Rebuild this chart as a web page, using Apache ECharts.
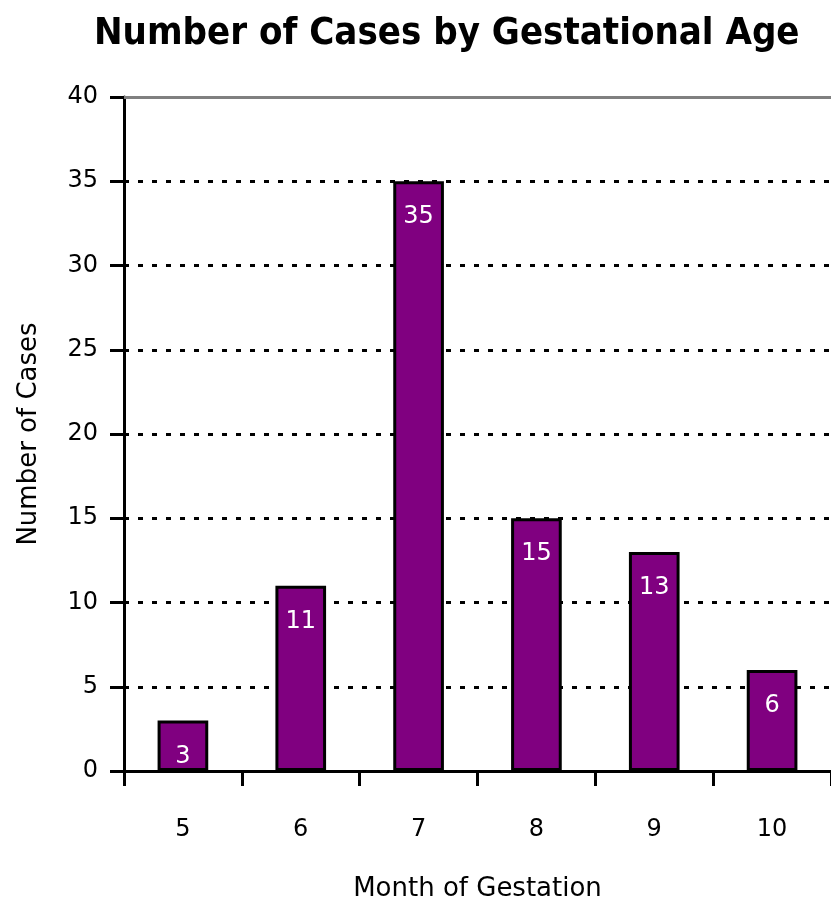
<!DOCTYPE html>
<html>
<head>
<meta charset="utf-8">
<script src="https://cdn.jsdelivr.net/npm/echarts@6/dist/echarts.min.js"></script>
<style>
  html, body { margin: 0; padding: 0; background: #fff; }
  #chart { width: 831px; height: 907px; }
</style>
</head>
<body>
<div id="chart"></div>
<script>
// data
const months = ['5', '6', '7', '8', '9', '10']
const cases = [3, 11, 35, 15, 13, 6]
const yTicks = [0, 5, 10, 15, 20, 25, 30, 35, 40]

const chart = echarts.init(document.getElementById('chart'))

const plainFont = 'DejaVu Sans'

chart.setOption({
  animation: false,
  backgroundColor: '#fff',
  title: {
    text: 'Number of Cases by Gestational Age',
    left: 89,
    top: 10,
    textStyle: {
      fontFamily: '"DejaVu Sans Condensed", "Liberation Sans Narrow", "Arial Narrow", sans-serif',
      fontSize: 38,
      fontWeight: 'bold',
      color: '#000'
    }
  },
  grid: {
    left: 124,
    right: 0,
    top: 97,
    bottom: 134
  },
  xAxis: {
    type: 'category',
    data: months,
    name: 'Month of Gestation',
    nameLocation: 'middle',
    nameGap: 105,
    nameTextStyle: { fontFamily: plainFont, fontSize: 26, color: '#000' },
    axisLine: { lineStyle: { color: '#000', width: 3 } },
    axisTick: { show: true, length: 15, lineStyle: { color: '#000', width: 3 } },
    axisLabel: { fontFamily: plainFont, fontSize: 24, color: '#000', margin: 47 }
  },
  yAxis: {
    type: 'value',
    min: yTicks[0],
    max: yTicks[yTicks.length - 1],
    interval: 5,
    name: 'Number of Cases',
    nameLocation: 'middle',
    nameGap: 82,
    nameTextStyle: { fontFamily: plainFont, fontSize: 26, color: '#000' },
    axisLine: { show: true, lineStyle: { color: '#000', width: 3 } },
    axisTick: { show: true, length: 14, lineStyle: { color: '#000', width: 3 } },
    axisLabel: { fontFamily: plainFont, fontSize: 24, color: '#000', margin: 26 },
    splitLine: {
      show: true,
      lineStyle: { color: '#000', width: 3, type: [5, 9] }
    }
  },
  series: [{
    type: 'bar',
    data: cases,
    barWidth: '43%',
    itemStyle: {
      color: '#800080',
      borderColor: '#000',
      borderWidth: 3
    },
    label: {
      show: true,
      position: 'insideTop',
      distance: 24,
      color: '#fff',
      fontFamily: plainFont,
      fontSize: 24
    },
    markLine: {
      silent: true,
      symbol: 'none',
      label: { show: false },
      lineStyle: { color: '#808080', width: 3, type: 'solid' },
      data: [{ yAxis: yTicks[yTicks.length - 1] }]
    }
  }]
})
</script>
</body>
</html>
